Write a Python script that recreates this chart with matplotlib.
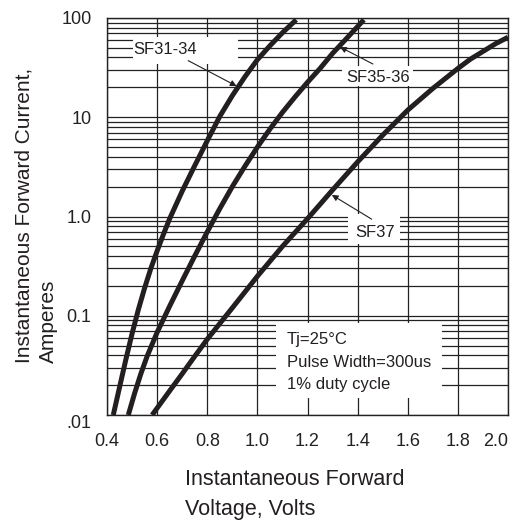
import numpy as np
from matplotlib import pyplot as plt
from matplotlib.patches import Rectangle
from matplotlib.ticker import LogLocator, NullFormatter

plt.rcParams['font.family'] = ['Liberation Sans', 'DejaVu Sans']

# forward voltage (V) / forward current (A)
v_sf31 = [0.425, 0.45, 0.475, 0.50, 0.525, 0.55, 0.575, 0.60, 0.625, 0.65, 0.70,
          0.75, 0.80, 0.85, 0.90, 0.95, 1.00, 1.05, 1.10, 1.155]
i_sf31 = [0.010, 0.019, 0.036, 0.066, 0.115, 0.19, 0.30, 0.45, 0.66, 0.95, 1.8,
          3.25, 5.8, 10.2, 16.5, 25.5, 38, 52.5, 71, 96]

v_sf35 = [0.485, 0.51, 0.535, 0.56, 0.60, 0.65, 0.70, 0.75, 0.80, 0.85, 0.90,
          0.95, 1.00, 1.05, 1.10, 1.15, 1.20, 1.25, 1.30, 1.35, 1.40, 1.425]
i_sf35 = [0.010, 0.0165, 0.026, 0.039, 0.068, 0.125, 0.225, 0.40, 0.70, 1.2, 2.0,
          3.2, 5.0, 7.6, 11.2, 16.0, 22.5, 31, 44, 60, 82, 96]

v_sf37 = [0.58, 0.65, 0.70, 0.75, 0.80, 0.90, 1.00, 1.10, 1.20, 1.30, 1.40,
          1.50, 1.60, 1.70, 1.80, 1.85, 1.90, 1.95, 2.00]
i_sf37 = [0.010, 0.0175, 0.026, 0.039, 0.058, 0.12, 0.25, 0.50, 0.95, 1.85, 3.55,
          6.6, 11.8, 19.5, 31, 38.5, 46, 55, 64]

x_ticks = [0.4, 0.6, 0.8, 1.0, 1.2, 1.4, 1.6, 1.8, 2.0]
x_tick_labels = ['0.4', '0.6', '0.8', '1.0', '1.2', '1.4', '1.6', '1.8', '2.0']
y_ticks = [0.01, 0.1, 1, 10, 100]
y_tick_labels = ['.01', '0.1', '1.0', '10', '100']

ink = '#231f20'

fig = plt.figure(figsize=(5.18, 5.22), dpi=100)
ax = fig.add_axes([107 / 518, 1 - 415 / 522, 401 / 518, 397 / 522])
ax.set_yscale('log')
ax.set_xlim(0.4, 2.0)
ax.set_ylim(0.01, 100)

ax.set_xticks(x_ticks)
ax.set_xticklabels(x_tick_labels)
ax.set_yticks(y_ticks)
ax.set_yticklabels(y_tick_labels)
ax.yaxis.set_minor_locator(LogLocator(base=10, subs=range(2, 10)))
ax.yaxis.set_minor_formatter(NullFormatter())
ax.tick_params(which='both', length=0, labelsize=13, colors='#222222')
ax.tick_params(axis='x', pad=13)
ax.tick_params(axis='y', pad=11)
ax.get_yticklabels()[0].set_va('top')
ax.get_xticklabels()[-1].set_ha('right')

ax.set_axisbelow(True)
ax.grid(which='major', axis='x', color='#222222', lw=0.9)
ax.grid(which='both', axis='y', color='#222222', lw=0.9)
for s in ax.spines.values():
    s.set_color('#222222')
    s.set_linewidth(1.0)

ax.plot(v_sf31, i_sf31, '-', color=ink, linewidth=3.6, solid_capstyle='butt')
ax.plot(v_sf35, i_sf35, '-', color=ink, linewidth=3.6, solid_capstyle='butt')
ax.plot(v_sf37, i_sf37, '-', color=ink, linewidth=3.6, solid_capstyle='butt')

# white label boxes that blank out the grid
boxes = [(0.504, 34.4, 0.923, 64.3),
         (1.336, 20.6, 1.622, 32.8),
         (1.362, 0.53, 1.569, 1.07),
         (1.074, 0.0148, 1.737, 0.0841)]
for x0, y0, x1, y1 in boxes:
    ax.add_patch(Rectangle((x0, y0), x1 - x0, y1 - y0, facecolor='white',
                           edgecolor='none', zorder=1))

tsize = 12
ax.text(0.631, 47.6, 'SF31-34', fontsize=tsize, ha='center', va='center', color=ink)
ax.text(1.481, 25.1, 'SF35-36', fontsize=tsize, ha='center', va='center', color=ink)
ax.text(1.469, 0.691, 'SF37', fontsize=tsize, ha='center', va='center', color=ink)

arrow = dict(arrowstyle='-|>', lw=0.8, color=ink, mutation_scale=9, shrinkA=0, shrinkB=0)
ax.annotate('', xy=(0.917, 20.6), xytext=(0.724, 37.2), arrowprops=arrow)
ax.annotate('', xy=(1.330, 51.0), xytext=(1.461, 34.4), arrowprops=arrow)
ax.annotate('', xy=(1.297, 1.65), xytext=(1.456, 0.94), arrowprops=arrow)

ax.text(1.117, 0.0574, 'Tj=25°C', fontsize=tsize, ha='left', va='center', color=ink)
ax.text(1.117, 0.0340, 'Pulse Width=300us', fontsize=tsize, ha='left', va='center', color=ink)
ax.text(1.117, 0.0202, '1% duty cycle', fontsize=tsize, ha='left', va='center', color=ink)

fig.text(36 / 518, 1 - 215 / 522, 'Instantaneous Forward Current,\nAmperes',
         rotation=90, ha='center', va='center', multialignment='left',
         fontsize=15, linespacing=1.35, color=ink)
fig.text(185 / 518, 1 - 485 / 522, 'Instantaneous Forward',
         ha='left', va='baseline', fontsize=15.5, color=ink)
fig.text(185 / 518, 1 - 515 / 522, 'Voltage, Volts',
         ha='left', va='baseline', fontsize=15.5, color=ink)

fig.savefig('out.png', dpi=100)
